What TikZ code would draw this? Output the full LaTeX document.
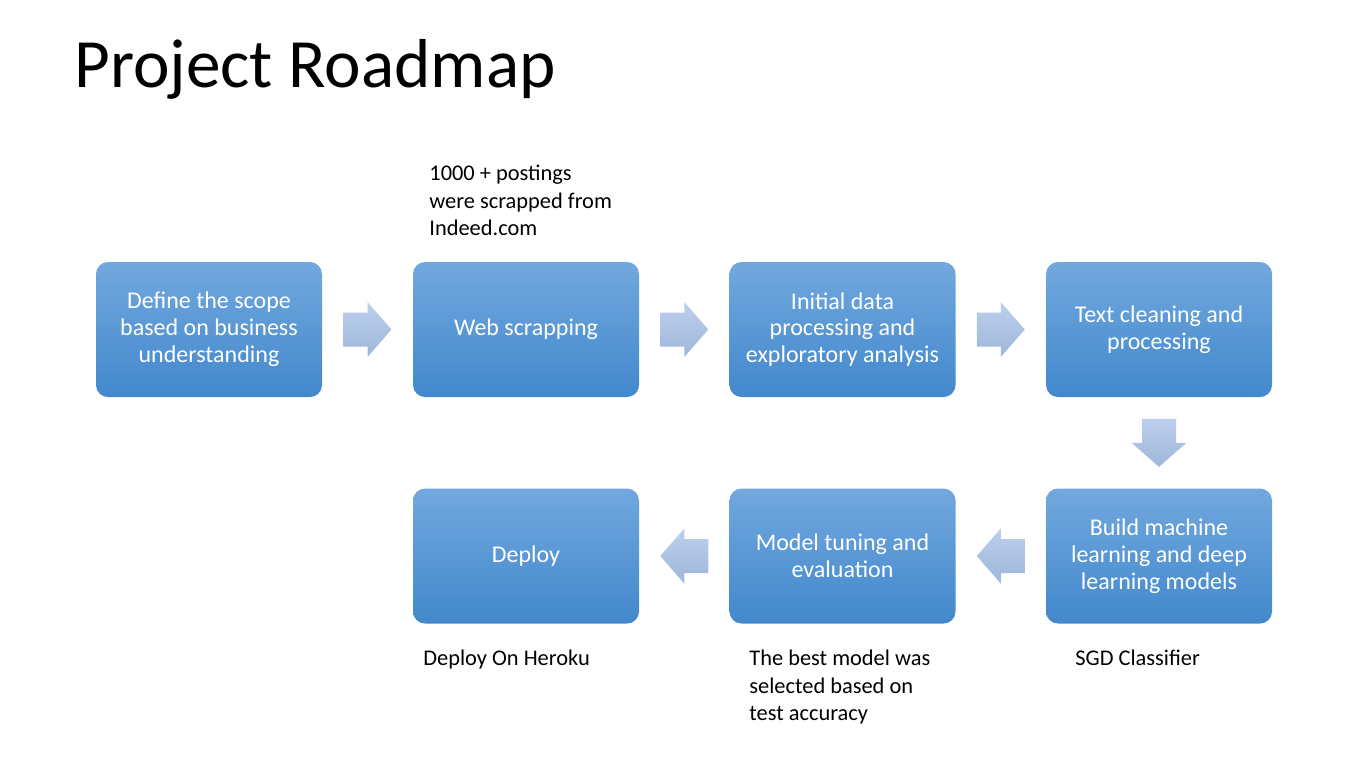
\documentclass[tikz,border=0pt]{standalone}
\usepackage{fontspec}
\setmainfont{Carlito}
\usetikzlibrary{calc}
\definecolor{boxtop}{RGB}{114,168,222}
\definecolor{boxbot}{RGB}{66,136,204}
\definecolor{arrtop}{RGB}{188,208,236}
\definecolor{arrbot}{RGB}{158,182,218}
\tikzset{
  stepbox/.style={draw=none, rounded corners=6pt, top color=boxtop, bottom color=boxbot,
    minimum width=113pt, minimum height=67.5pt, inner sep=0pt, align=center,
    text=white, font=\fontsize{12}{13.4}\selectfont},
  blockarrow/.style={draw=none, top color=arrtop, bottom color=arrbot},
  note/.style={anchor=north west, align=left, inner sep=0pt, text=black,
    font=\fontsize{11.2}{13.75}\selectfont}
}
\begin{document}
\begin{tikzpicture}[x=0.5pt,y=-0.5pt]
\useasboundingbox (0,0) rectangle (1366,768);
\fill[white] (0,0) rectangle (1366,768);
\node[anchor=base west, inner sep=0pt, font=\fontsize{34.6}{40}\selectfont] (title) at (74,87) {Project Roadmap};

\node[stepbox] (b1) at (209,329.5) {Define the scope\\based on business\\understanding};
\node[stepbox] (b2) at (526,329.5) {Web scrapping};
\node[stepbox] (b3) at (842.5,329.5) {Initial data\\processing and\\exploratory analysis};
\node[stepbox] (b4) at (1159,329.5) {Text cleaning and\\processing};
\node[stepbox] (b5) at (1159,556) {Build machine\\learning and deep\\learning models};
\node[stepbox] (b6) at (842.5,556) {Model tuning and\\evaluation};
\node[stepbox] (b7) at (526,556) {Deploy};

\coordinate (a1) at ($(b1.east)!0.5!(b2.west)$);
\coordinate (a2) at ($(b2.east)!0.5!(b3.west)$);
\coordinate (a3) at ($(b3.east)!0.5!(b4.west)$);
\coordinate (a4) at ($(b4.south)!0.5!(b5.north)$);
\coordinate (a5) at ($(b5.west)!0.5!(b6.east)$);
\coordinate (a6) at ($(b6.west)!0.5!(b7.east)$);

% right arrows
\foreach \a in {a1,a2,a3}{
  \begin{scope}[shift={(\a)}]
  \path[blockarrow] (-24,-17) -- (0,-17) -- (0,-27.5) -- (24,0) -- (0,27.5) -- (0,17) -- (-24,17) -- cycle;
  \end{scope}
}
% left arrows
\foreach \a in {a5,a6}{
  \begin{scope}[shift={(\a)}]
  \path[blockarrow] (24,-17) -- (0,-17) -- (0,-27.5) -- (-24,0) -- (0,27.5) -- (0,17) -- (24,17) -- cycle;
  \end{scope}
}
% down arrow
\begin{scope}[shift={(a4)}]
  \path[blockarrow] (-17,-24) -- (17,-24) -- (17,0) -- (27.5,0) -- (0,24) -- (-27.5,0) -- (-17,0) -- cycle;
\end{scope}

\node[note] (n1) at (429,165) {1000 + postings\\were scrapped from\\Indeed.com};
\node[note] (n2) at (423,650) {Deploy On Heroku};
\node[note] (n3) at (749,650) {The best model was\\selected based on\\test accuracy};
\node[note] (n4) at (1075,650) {SGD Classifier};
\end{tikzpicture}
\end{document}
